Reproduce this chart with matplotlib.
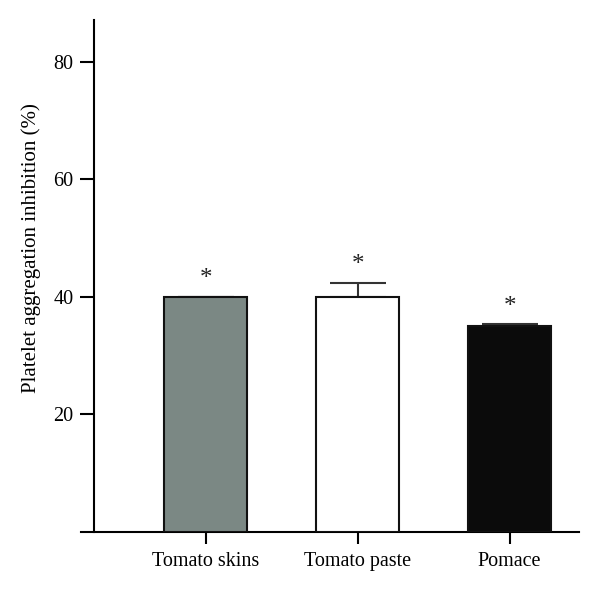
import matplotlib
matplotlib.use("Agg")
import matplotlib.pyplot as plt

categories = ["Tomato skins", "Tomato paste", "Pomace"]
values = [40.0, 40.0, 35.0]
errors = [0.0, 2.4, 0.3]
colors = ["#7b8884", "#ffffff", "#0b0b0b"]
yticks = [20, 40, 60, 80]

plt.rcParams['font.family'] = ['Liberation Serif', 'DejaVu Serif']

fig = plt.figure(figsize=(6.0, 5.93), dpi=100)
W, H = 600, 593
left, right, top, bottom = 80.7, 579.3, 20, 531.7
ax = fig.add_axes([left / W, 1 - bottom / H, (right - left) / W, (bottom - top) / H])

x = list(range(len(categories)))
ax.bar(x, values, width=0.55, color=colors, edgecolor="#111111", linewidth=1.5, zorder=3)
ax.errorbar(x, values, yerr=[[0] * len(errors), errors], fmt='none', ecolor="#333333",
            elinewidth=1.5, capsize=20, capthick=1.5, zorder=2)
for xi, v, e in zip(x, values, errors):
    ax.annotate("*", (xi, v + e), xytext=(0, 4.5), textcoords="offset points",
                ha="center", va="bottom", fontsize=18, color="#222222")

ax.set_xlim(-0.822, 2.459)
ax.set_ylim(0, 87.1)
ax.set_yticks(yticks)
ax.set_xticks(x)
ax.set_xticklabels(categories)
for s in ["top", "right"]:
    ax.spines[s].set_visible(False)
ax.spines["left"].set_position(("axes", (94.3 - left) / (right - left)))
ax.spines["left"].set_linewidth(1.5)
ax.spines["bottom"].set_linewidth(1.5)
ax.tick_params(axis="y", length=9.8, width=1.5, pad=5, labelsize=14.5)
ax.tick_params(axis="x", length=8.6, width=1.5, pad=6, labelsize=14.5)
ax.set_ylabel("Platelet aggregation inhibition (%)", fontsize=15)
ax.yaxis.set_label_coords((41 - left) / (right - left), 0.555)

fig.savefig("out.png", dpi=100)
